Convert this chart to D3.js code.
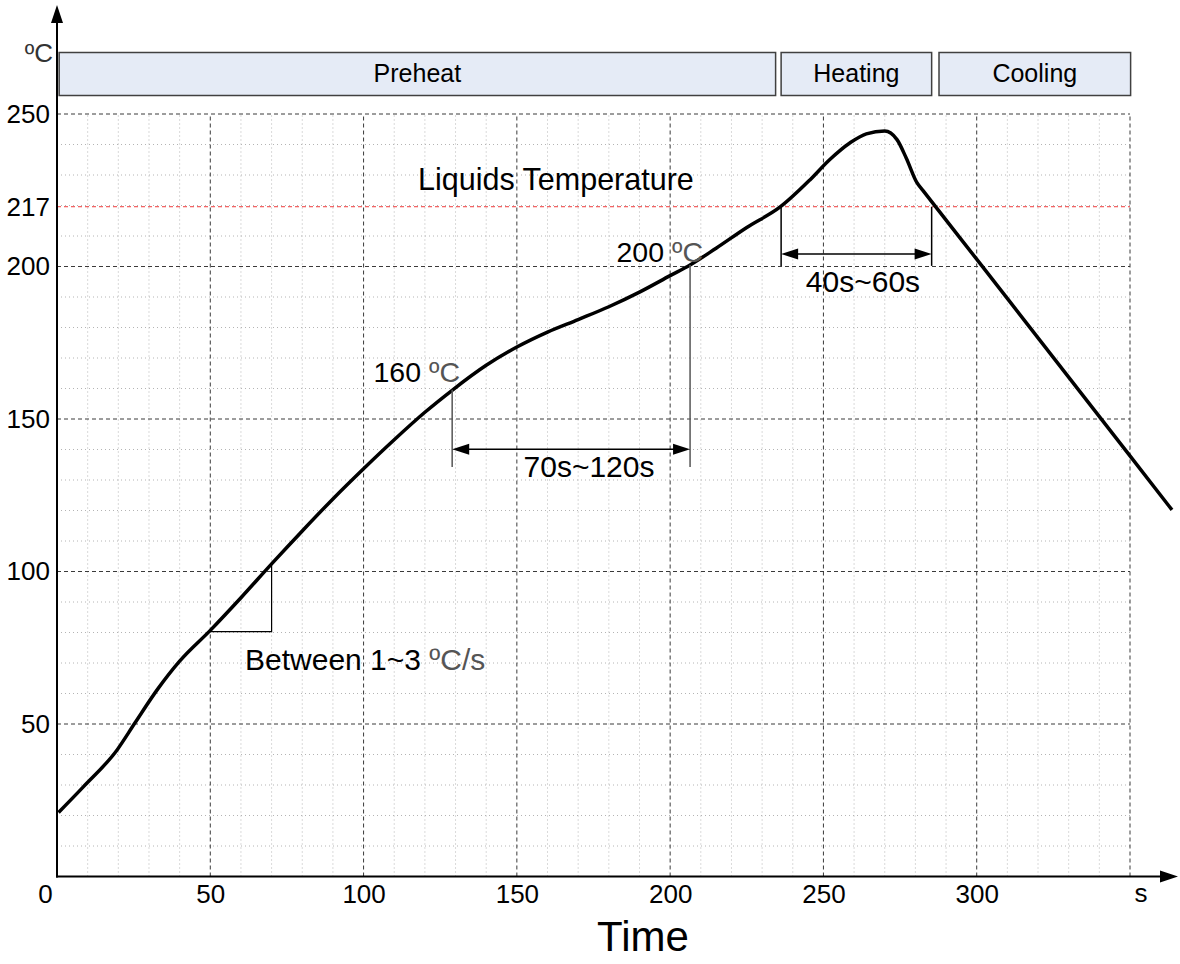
<!DOCTYPE html>
<html>
<head>
<meta charset="utf-8">
<script src="https://cdn.jsdelivr.net/npm/d3@7"></script>
<style>
  body { margin: 0; background: #fff; }
  text { font-family: "Liberation Sans", Arial, sans-serif; }
</style>
</head>
<body>
<div id="graph1"></div>
<script>
// reflow profile (time in s, temperature in degC)
let timeS = [0.5, 8.5, 19.6, 25.4, 32.6, 40, 50, 60, 70, 80, 90, 100, 110, 120, 129, 140, 150, 160, 170, 180, 190, 200, 206.5, 215, 225, 236, 245.6, 252, 258.6, 264, 270, 274, 277, 280.5, 282.5, 301, 350, 363.7];
let tempC = [21, 29.3, 41.5, 50.3, 61.1, 70.6, 80.7, 91.4, 102.5, 113.3, 123.8, 133.7, 143.2, 152.2, 159.5, 167.6, 173.6, 178.5, 182.6, 186.8, 191.6, 197, 200.5, 206, 212.8, 219.6, 228.4, 235, 240.5, 243.5, 244.4, 241.6, 235.6, 227.5, 224.9, 201.1, 137.9, 120.2];

// axis ticks
let xTickValues = [0, 50, 100, 150, 200, 250, 300];
let yTickValues = [50, 100, 150, 200, 219.6, 250];
let yTickLabels = ["50", "100", "150", "200", "217", "250"];
let liquidusLevel = 219.6;   // the 217 line sits here in the original

// phase boxes along the top
let phaseNames = ["Preheat", "Heating", "Cooling"];
let phaseStart = [0.7, 236.2, 287.7];
let phaseEnd = [234.4, 285.3, 350.2];

let width = 1180, height = 964;

let svg = d3.select("#graph1")
    .append("svg")
    .attr("width", width)
    .attr("height", height);

let x = d3.scaleLinear().domain([0, 350]).range([57, 1130]);
let y = d3.scaleLinear().domain([0, 250]).range([876.5, 114]);

// minor dotted grid every 10
let minor = svg.append("g")
    .attr("stroke", "#b4b4b4")
    .attr("stroke-width", 1)
    .attr("stroke-dasharray", "1,3");
minor.selectAll("line.v")
    .data(d3.range(10, 350, 10).filter(d => d % 50 != 0))
    .enter().append("line")
    .attr("x1", d => x(d)).attr("x2", d => x(d))
    .attr("y1", y(0)).attr("y2", y(250));
minor.selectAll("line.h")
    .data(d3.range(10, 250, 10).filter(d => d % 50 != 0))
    .enter().append("line")
    .attr("x1", x(0)).attr("x2", x(350))
    .attr("y1", d => y(d)).attr("y2", d => y(d));

// major dashed grid
let major = svg.append("g")
    .attr("stroke", "#3a3a3a")
    .attr("stroke-width", 1)
    .attr("stroke-dasharray", "4,3");
major.selectAll("line.v")
    .data([50, 100, 150, 200, 250, 300, 350])
    .enter().append("line")
    .attr("x1", d => x(d)).attr("x2", d => x(d))
    .attr("y1", y(0)).attr("y2", y(250));
major.selectAll("line.h")
    .data([50, 100, 150, 200, 250])
    .enter().append("line")
    .attr("x1", x(0)).attr("x2", x(350))
    .attr("y1", d => y(d)).attr("y2", d => y(d));

// liquidus line
svg.append("line")
    .attr("x1", x(0)).attr("x2", x(350))
    .attr("y1", y(liquidusLevel)).attr("y2", y(liquidusLevel))
    .attr("stroke", "#f03a3a")
    .attr("stroke-width", 1)
    .attr("stroke-dasharray", "4,3");

// phase boxes
let phases = svg.append("g");
phases.selectAll("rect")
    .data(phaseNames)
    .enter().append("rect")
    .attr("x", (d, i) => x(phaseStart[i]))
    .attr("y", 52.5)
    .attr("width", (d, i) => x(phaseEnd[i]) - x(phaseStart[i]))
    .attr("height", 43)
    .attr("fill", "#e5ebf6")
    .attr("stroke", "#404040")
    .attr("stroke-width", 1.5);
phases.selectAll("text")
    .data(phaseNames)
    .enter().append("text")
    .attr("x", (d, i) => (x(phaseStart[i]) + x(phaseEnd[i])) / 2)
    .attr("y", 82)
    .style("text-anchor", "middle")
    .style("font-size", "25px")
    .text(d => d);

// axes with arrow heads
svg.append("line")
    .attr("x1", x(0)).attr("x2", x(0))
    .attr("y1", y(0) + 1).attr("y2", 20)
    .attr("stroke", "#000").attr("stroke-width", 2);
svg.append("path")
    .attr("d", "M" + x(0) + ",5 L" + (x(0) - 6) + ",23 L" + (x(0) + 6) + ",23 Z")
    .attr("fill", "#000");
svg.append("line")
    .attr("x1", x(0) - 1).attr("x2", 1162)
    .attr("y1", y(0)).attr("y2", y(0))
    .attr("stroke", "#000").attr("stroke-width", 2);
svg.append("path")
    .attr("d", "M1178," + y(0) + " L1160," + (y(0) - 6) + " L1160," + (y(0) + 6) + " Z")
    .attr("fill", "#000");

// y tick labels
let yAxis = svg.append("g")
    .attr("transform", "translate(" + x(0) + ",0)")
    .call(d3.axisLeft(y).tickValues(yTickValues).tickSize(0).tickPadding(7)
        .tickFormat((d, i) => yTickLabels[i]));
yAxis.select(".domain").remove();
yAxis.selectAll("text")
    .style("font-family", "Liberation Sans, Arial, sans-serif")
    .style("font-size", "26px")
    .attr("fill", "#000");

// x tick labels
let xAxis = svg.append("g")
    .attr("transform", "translate(0," + y(0) + ")")
    .call(d3.axisBottom(x).tickValues(xTickValues).tickSize(0).tickPadding(8));
xAxis.select(".domain").remove();
xAxis.selectAll("text")
    .style("font-family", "Liberation Sans, Arial, sans-serif")
    .style("font-size", "26px")
    .attr("fill", "#000");
// the 0 sits left of the corner
xAxis.selectAll(".tick").filter(d => d == 0).select("text").attr("x", -12);

// unit labels
svg.append("text")
    .attr("x", 53).attr("y", 62)
    .style("text-anchor", "end")
    .style("font-size", "26px")
    .attr("fill", "#333")
    .text("ºC");
svg.append("text")
    .attr("x", 1141).attr("y", 902)
    .style("text-anchor", "middle")
    .style("font-size", "26px")
    .text("s");
svg.append("text")
    .attr("x", 643).attr("y", 951)
    .style("text-anchor", "middle")
    .style("font-size", "42px")
    .text("Time");

// the profile curve
let line = d3.line()
    .x(d => x(d[0]))
    .y(d => y(d[1]))
    .curve(d3.curveMonotoneX);
svg.append("path")
    .datum(timeS.map((t, i) => [t, tempC[i]]))
    .attr("d", line)
    .attr("fill", "none")
    .attr("stroke", "#000")
    .attr("stroke-width", 3.5)
    .attr("stroke-linejoin", "round");

// helpers for the annotations
let ann = svg.append("g");
function vline(t, v1, v2, color) {
    ann.append("line")
        .attr("x1", x(t)).attr("x2", x(t))
        .attr("y1", y(v1)).attr("y2", y(v2))
        .attr("stroke", color).attr("stroke-width", 1.5);
}
function arrowLine(t1, t2, v) {
    let x1 = x(t1), x2 = x(t2), yy = y(v);
    ann.append("line")
        .attr("x1", x1 + 10).attr("x2", x2 - 10)
        .attr("y1", yy).attr("y2", yy)
        .attr("stroke", "#000").attr("stroke-width", 1.5);
    ann.append("path")
        .attr("d", "M" + x1 + "," + yy + " L" + (x1 + 17) + "," + (yy - 5.5) + " L" + (x1 + 17) + "," + (yy + 5.5) + " Z")
        .attr("fill", "#000");
    ann.append("path")
        .attr("d", "M" + x2 + "," + yy + " L" + (x2 - 17) + "," + (yy - 5.5) + " L" + (x2 - 17) + "," + (yy + 5.5) + " Z")
        .attr("fill", "#000");
}
function label(px, py, anchor, size, main, grey) {
    let t = ann.append("text")
        .attr("x", px).attr("y", py)
        .style("text-anchor", anchor)
        .style("font-size", size + "px");
    t.append("tspan").attr("fill", "#000").text(main);
    if (grey) t.append("tspan").attr("fill", "#555").text(grey);
}

// slope triangle
ann.append("path")
    .attr("d", "M" + x(49.9) + "," + y(80.3) + " L" + x(70) + "," + y(80.3) + " L" + x(70) + "," + y(102.8))
    .attr("fill", "none")
    .attr("stroke", "#000")
    .attr("stroke-width", 1.2);
label(245, 670, "start", 30, "Between 1~3 ", "ºC/s");

// soak window 160 -> 200
vline(128.9, 159.6, 134.3, "#555");
vline(206.5, 200.5, 134.3, "#555");
arrowLine(128.9, 206.5, 140.1);
label(460, 382, "end", 28.5, "160 ", "ºC");
label(703, 262, "end", 28.5, "200 ", "ºC");
label(589, 477, "middle", 30, "70s~120s");

// time above liquidus
vline(236.2, liquidusLevel, 200.2, "#000");
vline(285.3, liquidusLevel, 200.2, "#000");
arrowLine(236.2, 285.3, 204.1);
label(863, 292, "middle", 30, "40s~60s");

label(418, 190, "start", 30.5, "Liquids Temperature");
</script>
</body>
</html>
